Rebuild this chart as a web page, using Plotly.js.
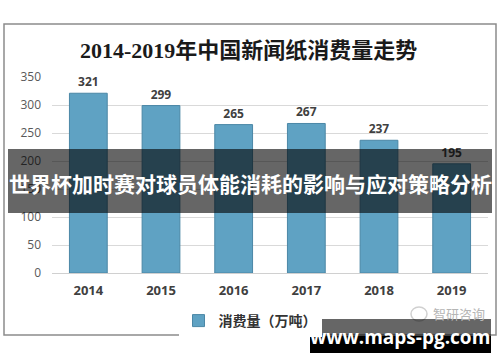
<!DOCTYPE html>
<html>
<head>
<meta charset="utf-8">
<script src="https://cdn.plot.ly/plotly-3.0.1.min.js"></script>
<style>html,body{margin:0;padding:0;background:#fff;}#chart{width:500px;height:362px;}</style>
</head>
<body>
<div id="chart"></div>
<script>
const years = ['2014','2015','2016','2017','2018','2019'];
const consumption = [321, 299, 265, 267, 237, 195];
const seriesName = '消费量（万吨）';
const titleText = '2014-2019年中国新闻纸消费量走势';
const bannerText = '世界杯加时赛对球员体能消耗的影响与应对策略分析';
const siteText = 'www.maps-pg.com';
const sourceText = '智研咨询';
const yTicks = [0, 50, 100, 150, 200, 250, 300, 350];

// plot area in pixels
const L = 52, R = 488, T = 77, B = 273;
const px = x => (x - L) / (R - L);
const py = y => (B - y) / (B - T);

const cjk = '"Noto Sans CJK SC", "Noto Sans", sans-serif';

const trace = {
  type: 'bar',
  x: years,
  y: consumption,
  name: seriesName,
  marker: {color: '#5FA2C3', line: {color: '#4B87A6', width: 1}},
  text: consumption.map(String),
  textposition: 'outside',
  cliponaxis: false,
  textfont: {family: '"Open Sans", "DejaVu Sans", sans-serif', size: 12, color: '#404040', weight: 'bold'},
  width: 0.52
};

const layout = {
  width: 500, height: 362,
  margin: {l: L, r: 500 - R, t: T, b: 362 - B},
  paper_bgcolor: '#ffffff', plot_bgcolor: '#ffffff',
  showlegend: true,
  legend: {orientation: 'h', x: px(250), xanchor: 'center', y: py(321), yanchor: 'middle',
    font: {family: cjk, size: 14, color: '#333333', weight: 'bold'}, itemwidth: 30},
  xaxis: {type: 'category', showgrid: false, zeroline: false, showline: false, ticks: '',
    ticklabelstandoff: 8,
    tickfont: {family: '"Open Sans", "DejaVu Sans", sans-serif', size: 13, color: '#404040', weight: 'bold'}},
  yaxis: {range: [0, 350], tickvals: yTicks, showgrid: true, gridcolor: '#d9d9d9', gridwidth: 1,
    zeroline: true, zerolinecolor: '#d0d0d0', zerolinewidth: 1, showline: false, ticks: '',
    ticklabelstandoff: 10,
    tickfont: {family: '"Open Sans", "DejaVu Sans", sans-serif', size: 12, color: '#595959'}},
  shapes: [
    {type: 'rect', xref: 'paper', yref: 'paper', x0: px(4), x1: px(496), y0: py(335), y1: py(24),
      line: {color: '#8c8c8c', width: 1.5}, fillcolor: 'rgba(0,0,0,0)', layer: 'below'},
    {type: 'circle', xref: 'paper', yref: 'paper', x0: px(411), x1: px(427), y0: py(321), y1: py(307),
      line: {color: '#d0d0d0', width: 1.5}, fillcolor: 'rgba(0,0,0,0)', layer: 'above'},
    {type: 'rect', xref: 'paper', yref: 'paper', x0: px(8), x1: px(492), y0: py(213), y1: py(149),
      line: {width: 0}, fillcolor: 'rgba(0,0,0,0.6)', layer: 'above'},
    {type: 'rect', xref: 'paper', yref: 'paper', x0: px(310), x1: px(491), y0: py(336), y1: py(319),
      line: {width: 0}, fillcolor: 'rgba(0,0,0,0.6)', layer: 'above'},
    {type: 'rect', xref: 'paper', yref: 'paper', x0: px(310), x1: px(491), y0: py(353), y1: py(336),
      line: {width: 0}, fillcolor: '#000000', layer: 'above'}
  ],
  annotations: [
    {text: titleText, xref: 'paper', yref: 'paper', x: px(248), y: py(50), xanchor: 'center', yanchor: 'middle',
      showarrow: false, font: {family: '"Liberation Serif", "DejaVu Serif", "Noto Sans CJK SC", serif', size: 22, color: '#1a1a1a', weight: 'bold'}},
    {text: sourceText, xref: 'paper', yref: 'paper', x: px(459), y: py(313), xanchor: 'center', yanchor: 'middle',
      showarrow: false, font: {family: cjk, size: 13, color: '#b5b5b5'}},
    {text: bannerText, xref: 'paper', yref: 'paper', x: px(250), y: py(183), xanchor: 'center', yanchor: 'middle',
      showarrow: false, font: {family: cjk, size: 21, color: '#ffffff', weight: 'bold'}},
    {text: siteText, xref: 'paper', yref: 'paper', x: px(400), y: py(337), xanchor: 'center', yanchor: 'middle',
      showarrow: false, font: {family: '"Open Sans", "DejaVu Sans", sans-serif', size: 19, color: '#ffffff', weight: 'bold'}}
  ]
};

Plotly.newPlot('chart', [trace], layout, {displayModeBar: false, staticPlot: true});
</script>
</body>
</html>
